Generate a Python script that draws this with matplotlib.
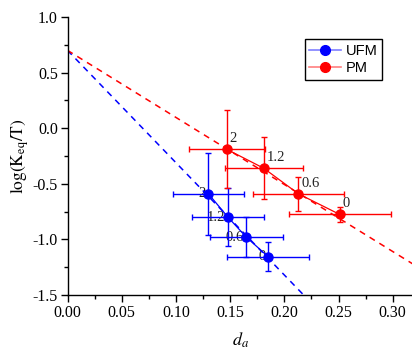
import matplotlib
matplotlib.use("Agg")
import matplotlib.pyplot as plt
import numpy as np
from matplotlib.lines import Line2D

plt.rcParams['font.family'] = ['Liberation Serif', 'DejaVu Serif']
plt.rcParams['mathtext.fontset'] = 'stix'

# UFM series
ufm_x = [0.130, 0.148, 0.165, 0.185]
ufm_y = [-0.59, -0.80, -0.98, -1.155]
ufm_xerr = [0.033, 0.033, 0.034, 0.038]
ufm_yerr = [0.37, 0.26, 0.18, 0.13]
ufm_labels = ['2', '1.2', '0.6', '0']

# PM series
pm_x = [0.147, 0.181, 0.213, 0.251]
pm_y = [-0.19, -0.36, -0.59, -0.775]
pm_xerr = [0.035, 0.036, 0.042, 0.047]
pm_yerr = [0.35, 0.28, 0.153, 0.07]
pm_labels = ['2', '1.2', '0.6', '0']

# linear fits: intercept, slope
ufm_fit = (0.70, -10.1)
pm_fit = (0.70, -6.03)

xticks = [0.00, 0.05, 0.10, 0.15, 0.20, 0.25, 0.30]
yticks = [-1.5, -1.0, -0.5, 0.0, 0.5, 1.0]

fig = plt.figure(figsize=(4.12, 3.5), dpi=100)
ax = fig.add_axes([67.5/412, 55/350, (414.4-67.5)/412, 278/350])

xlim = (0.0, 0.32)
ylim = (-1.5, 1.0)
xx = np.array(xlim)

ax.plot(xx, ufm_fit[0] + ufm_fit[1]*xx, color='blue', ls=(0, (4, 3.5)), lw=1.1, zorder=2)
ax.plot(xx, pm_fit[0] + pm_fit[1]*xx, color='red', ls=(0, (4, 3.5)), lw=1.1, zorder=2)

for xs, ys, xe, ye, c in [(ufm_x, ufm_y, ufm_xerr, ufm_yerr, 'blue'),
                          (pm_x, pm_y, pm_xerr, pm_yerr, 'red')]:
    ax.errorbar(xs, ys, xerr=xe, yerr=ye, fmt='none', ecolor=c, elinewidth=1.0,
                capsize=2.5, capthick=1.0, zorder=3)
    ax.plot(xs, ys, color=c, lw=0.9, marker='o', markersize=6.5, zorder=4)

h1 = Line2D([], [], color='#7f7fff', lw=1.2, marker='o', markersize=7,
            markerfacecolor='blue', markeredgecolor='blue')
h2 = Line2D([], [], color='#ff7f7f', lw=1.2, marker='o', markersize=7,
            markerfacecolor='red', markeredgecolor='red')
leg = ax.legend([h1, h2], ['UFM', 'PM'], loc='upper left',
                bbox_to_anchor=(305/412, 1-39.3/350), bbox_transform=fig.transFigure,
                prop={'family': 'Liberation Sans', 'size': 10.5}, frameon=True,
                fancybox=False, edgecolor='black', framealpha=1, handlelength=2.2,
                handletextpad=0.3, borderpad=0.3, labelspacing=0.25, borderaxespad=0)
leg.get_frame().set_linewidth(1.0)

for x, y, t in zip(pm_x, pm_y, pm_labels):
    ax.annotate(t, (x, y), xytext=(2, 3), textcoords='offset points',
                fontsize=10.5, ha='left', va='bottom', color='#222222', zorder=5)
for x, y, t in zip(ufm_x, ufm_y, ufm_labels):
    ax.annotate(t, (x, y), xytext=(-2, 0), textcoords='offset points',
                fontsize=10.5, ha='right', va='center', color='#222222', zorder=1)

ax.set_xlim(*xlim)
ax.set_ylim(*ylim)
ax.set_xticks(xticks)
ax.set_xticklabels([f'{v:.2f}' for v in xticks])
ax.set_yticks(yticks)
ax.set_yticklabels([f'{v:.1f}' for v in yticks])
ax.set_xticks(np.arange(0.025, 0.32, 0.05), minor=True)
ax.set_yticks(np.arange(-1.25, 1.0, 0.5), minor=True)
ax.tick_params(which='major', direction='out', length=5, width=1, labelsize=11.5, pad=2)
ax.tick_params(which='minor', direction='out', length=3, width=1)
ax.spines['top'].set_visible(False)
ax.spines['right'].set_visible(False)
ax.spines['left'].set_linewidth(1.0)
ax.spines['bottom'].set_linewidth(1.0)

ax.set_ylabel(r'$\mathrm{log(K_{eq}/T)}$', fontsize=12.5, labelpad=1)
ax.set_xlabel(r'$d_a$', fontsize=13, labelpad=7)

fig.savefig('out.png', dpi=100)
